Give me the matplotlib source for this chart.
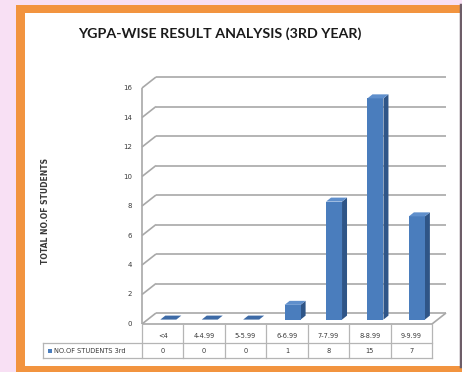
import numpy as np
import matplotlib
matplotlib.use('Agg')
import matplotlib.pyplot as plt
from matplotlib.patches import Rectangle, Polygon

categories = ['<4', '4-4.99', '5-5.99', '6-6.99', '7-7.99', '8-8.99', '9-9.99']
students = [0, 0, 0, 1, 8, 15, 7]
series_name = 'NO.OF STUDENTS 3rd'
title = 'YGPA-WISE RESULT ANALYSIS (3RD YEAR)'
ylabel = 'TOTAL NO.OF STUDENTS'
yticks = [0, 2, 4, 6, 8, 10, 12, 14, 16]

W, H = 462, 372
px_x = 290 / 7.0      # pixels per category
px_y = 14.75          # pixels per student
ddx, ddy = 14 / px_x, 11 / px_y     # depth of the floor/walls
grid_c = '#a8a8a8'
txt_c = '#3a3a3a'
front_c, side_c, top_c = '#4a7dbd', '#2f5587', '#5f8fcc'

fig = plt.figure(figsize=(W / 100, H / 100), dpi=100)
fig.patch.set_facecolor('#f8e0f4')

# page frame
bg = fig.add_axes([0, 0, 1, 1])
bg.set_xlim(0, W)
bg.set_ylim(H, 0)
bg.axis('off')
bg.add_patch(Rectangle((16, 5), 446, 372, facecolor='#f2943f', edgecolor='none'))
bg.add_patch(Rectangle((25, 13), 437, 353, facecolor='white', edgecolor='none'))
bg.plot([460.5, 460.5], [5, 366], color='#6d5d68', lw=2.5)

# chart area: front-left corner at (142, 324) px
left, right, bottom, top = 142, 142 + 290 + 14, 324, 324 - 16 * px_y - 11
ax = fig.add_axes([left / W, (H - bottom) / H, (right - left) / W, (bottom - top) / H])
ax.set_xlim(-0.5, 6.5 + ddx)
ax.set_ylim(0, 16 + ddy)
ax.axis('off')
ax.patch.set_alpha(0)

x0, x1 = -0.5, 6.5
kw = dict(color=grid_c, lw=1.2, clip_on=False, solid_capstyle='butt')
for v in yticks:
    ax.plot([x0 + ddx, x1 + ddx], [v + ddy, v + ddy], **kw)
    ax.plot([x0, x0 + ddx], [v, v + ddy], **kw)
ax.plot([x0, x0], [0, 16], **kw)
ax.plot([x0, x1], [0, 0], **kw)
ax.plot([x1, x1 + ddx], [0, ddy], **kw)

# y tick labels
for v in yticks:
    ax.text(x0 - 10 / px_x, v, str(v), ha='right', va='center',
            fontsize=5, color=txt_c, clip_on=False)

# 3d bars
bw = 16 / px_x
bdx, bdy = 5 / px_x, 4 / px_y
ox, oy = 0.4 * ddx, 0.4 * ddy
for i, v in enumerate(students):
    xl = i - bw / 2 + ox
    xr = xl + bw
    yb = oy
    yt = oy + v
    top_face = [(xl, yt), (xr, yt), (xr + bdx, yt + bdy), (xl + bdx, yt + bdy)]
    if v > 0:
        ax.add_patch(Polygon([(xr, yb), (xr + bdx, yb + bdy), (xr + bdx, yt + bdy), (xr, yt)],
                             facecolor=side_c, edgecolor='none', zorder=3))
        ax.add_patch(Rectangle((xl, yb), bw, v, facecolor=front_c, edgecolor='none', zorder=3))
        ax.add_patch(Polygon(top_face, facecolor=top_c, edgecolor='none', zorder=4))
    else:
        ax.add_patch(Polygon(top_face, facecolor='#3d6aa6', edgecolor='none', zorder=4))

# data table under the floor
def py(p):
    return (bottom - p) / px_y

leg_x = x0 - 99 / px_x
row_mid, row_bot = py(343), py(358)
tkw = dict(color='#b5b5b5', lw=0.9, clip_on=False)
for k in range(8):
    ax.plot([x0 + k, x0 + k], [0, row_bot], **tkw)
ax.plot([leg_x, x1], [row_mid, row_mid], **tkw)
ax.plot([leg_x, x1], [row_bot, row_bot], **tkw)
ax.plot([leg_x, leg_x], [row_mid, row_bot], **tkw)
for i, (c, v) in enumerate(zip(categories, students)):
    ax.text(i, py(336), c, ha='center', va='center', fontsize=4.8, color=txt_c, clip_on=False)
    ax.text(i, py(351), str(v), ha='center', va='center', fontsize=4.8, color=txt_c, clip_on=False)
ax.add_patch(Rectangle((leg_x + 5 / px_x, py(353)), 4 / px_x, 4 / px_y,
                       facecolor=front_c, edgecolor='none', clip_on=False))
ax.text(leg_x + 11 / px_x, py(351), series_name, ha='left', va='center',
        fontsize=4.8, color=txt_c, clip_on=False)

bg.text(78, 34, title, ha='left', va='center', fontsize=10.25, fontweight='bold',
        family='Lato', color='#1a1a1a')
bg.text(45, 211, ylabel, ha='center', va='center', rotation=90, fontsize=5.5,
        fontweight='bold', color=txt_c)

fig.savefig('out.png', dpi=100, facecolor=fig.get_facecolor())
